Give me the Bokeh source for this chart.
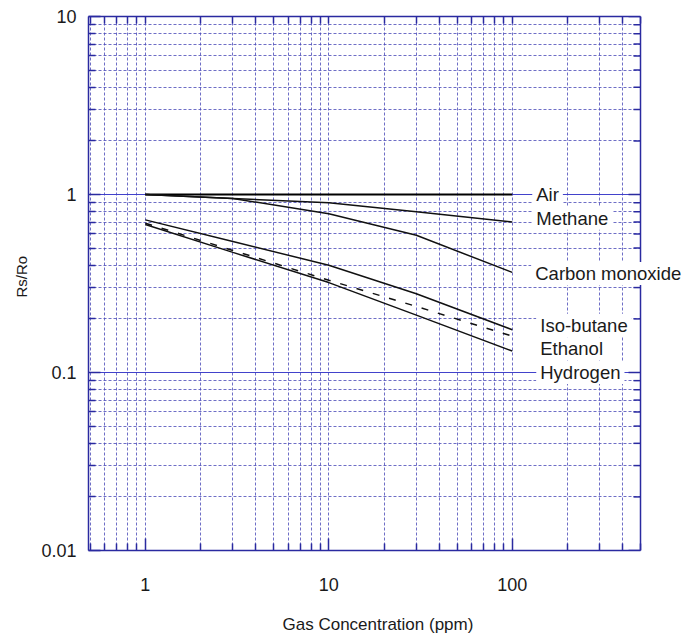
import math

from bokeh.embed import file_html
from bokeh.models import (BoxAnnotation, CustomJSTickFormatter, FixedTicker,
                          Label, LogAxis, Range1d, Span, Title)
from bokeh.plotting import figure
from bokeh.resources import INLINE

# Sensitivity characteristics: Rs/Ro versus gas concentration (ppm)
conc = [1, 3, 10, 30, 100]
air = [1.0, 1.0, 1.0, 1.0, 1.0]
methane = [1.0, 0.95, 0.90, 0.80, 0.70]
carbon_monoxide = [1.0, 0.95, 0.78, 0.59, 0.365]
iso_butane = [0.72, 0.545, 0.40, 0.277, 0.174]
ethanol = [0.69, 0.485, 0.33, 0.235, 0.16]
hydrogen = [0.678, 0.473, 0.32, 0.21, 0.132]

gas_names = ["Air", "Methane", "Carbon monoxide", "Iso-butane", "Ethanol", "Hydrogen"]

x_major = [1, 10, 100]
y_major = [0.01, 0.1, 1, 10]
x_lo, x_hi = 0.49, 500
y_lo, y_hi = 0.01, 10

FONT = "Liberation Sans"
FRAME = "#2a2aa0"
GRID = "#4a4ab8"
GRID_MAJOR = "#3838c8"
TEXT = "#1a1a1a"

x_minor = [m * 10.0 ** k for k in (-1, 0, 1, 2) for m in range(2, 10)]
x_minor = [v for v in x_minor if x_lo <= v <= x_hi]
y_minor = [m * 10.0 ** k for k in (-2, -1, 0) for m in range(2, 10)]

# the plotting frame runs on past x_hi so that the curve names on the
# right are not cut; the chart box itself ends at x_hi
FRAME_W, EXTRA_W = 552, 49
px_per_decade = FRAME_W / math.log10(x_hi / x_lo)
x_view_hi = x_hi * 10 ** (EXTRA_W / px_per_decade)

p = figure(width=689, height=642,
           x_axis_type="log", y_axis_type="log",
           x_range=Range1d(x_lo, x_view_hi), y_range=Range1d(y_lo, y_hi),
           output_backend="svg", toolbar_location=None,
           min_border_left=88, min_border_right=0,
           min_border_top=16, min_border_bottom=92)
p.outline_line_color = None
p.background_fill_color = "white"
p.border_fill_color = "white"

xt = FixedTicker(ticks=x_major, minor_ticks=x_minor)
yt = FixedTicker(ticks=y_major, minor_ticks=y_minor)
fmt = CustomJSTickFormatter(code="return tick.toString();")

p.xaxis.ticker = xt
p.yaxis.ticker = yt
p.xgrid.ticker = xt
p.ygrid.ticker = yt
p.xaxis.formatter = fmt
p.yaxis.formatter = fmt
p.xaxis.bounds = (x_lo, x_hi)


def style_axis(ax):
    ax.axis_line_color = FRAME
    ax.axis_line_width = 1.5
    ax.major_tick_in = 12
    ax.major_tick_out = 0
    ax.minor_tick_in = 7
    ax.minor_tick_out = 0
    ax.major_tick_line_color = FRAME
    ax.major_tick_line_width = 1.5
    ax.minor_tick_line_color = FRAME
    ax.minor_tick_line_width = 1.5
    ax.major_label_text_font = FONT
    ax.major_label_text_font_size = "18px"
    ax.major_label_text_color = TEXT


for ax in p.xaxis:
    style_axis(ax)
    ax.major_label_standoff = 27
for ax in p.yaxis:
    style_axis(ax)
    ax.major_label_standoff = 12

# tick-only axis closing the box on top
top_axis = LogAxis(ticker=FixedTicker(ticks=[], minor_ticks=x_major + x_minor),
                   bounds=(x_lo, x_hi))
style_axis(top_axis)
p.add_layout(top_axis, "above")

# grid: dashed verticals, solid decade horizontals, dashed minor lines
p.xgrid.grid_line_color = GRID
p.xgrid.grid_line_dash = "3 2"
p.xgrid.grid_line_alpha = 0.8
p.xgrid.minor_grid_line_color = GRID
p.xgrid.minor_grid_line_dash = "3 2"
p.xgrid.minor_grid_line_alpha = 0.8
p.ygrid.grid_line_color = GRID_MAJOR
p.ygrid.grid_line_width = 1.2
p.ygrid.grid_line_alpha = 0.95
p.ygrid.minor_grid_line_color = GRID
p.ygrid.minor_grid_line_dash = "3 2"
p.ygrid.minor_grid_line_alpha = 0.8

# blank out the grid beyond the box and draw its right edge
p.add_layout(BoxAnnotation(left=x_hi, fill_color="white", fill_alpha=1.0,
                           line_alpha=0, level="underlay"))
p.add_layout(Span(location=x_hi, dimension="height", line_color=FRAME,
                  line_width=1.5, level="underlay"))

# inward ticks along the right edge
right_y = y_major + y_minor
right_len = [12] * len(y_major) + [7] * len(y_minor)
p.segment(x0=[x_hi / 10 ** (L / px_per_decade) for L in right_len],
          x1=[x_hi] * len(right_y), y0=right_y, y1=right_y,
          line_color=FRAME, line_width=1.5)

# sensitivity curves
p.line(conc, air, line_color="black", line_width=2)
p.line(conc, methane, line_color="#111111", line_width=1.5)
p.line(conc, carbon_monoxide, line_color="#111111", line_width=1.5)
p.line(conc, iso_butane, line_color="#111111", line_width=1.5)
p.line(conc, ethanol, line_color="#111111", line_width=1.5, line_dash="7 10")
p.line(conc, hydrogen, line_color="#111111", line_width=1.5)

# curve names to the right of the 100 ppm end points
label_y = [1.0, 0.735, 0.36, 0.184, 0.136, 0.1]
label_dx = [20, 20, 19, 24, 24, 24]
for name, yy, dx in zip(gas_names, label_y, label_dx):
    p.add_layout(Label(x=conc[-1], y=yy, x_offset=dx, text=name,
                       text_align="left", text_baseline="middle",
                       text_font=FONT, text_font_size="18.5px",
                       text_color=TEXT,
                       background_fill_color="white",
                       padding=dict(left=4, right=4, top=1, bottom=1)))

# axis titles
p.add_layout(Title(text="Gas Concentration (ppm)", align="left", offset=194,
                   standoff=4, padding=dict(left=0, right=0, top=17, bottom=0),
                   text_font=FONT, text_font_size="17px",
                   text_font_style="normal", text_color=TEXT), "below")
p.add_layout(Title(text="Rs/Ro", align="left", offset=253, standoff=18,
                   text_font=FONT, text_font_size="15px",
                   text_font_style="normal", text_color=TEXT), "left")

open("out.html", "w").write(file_html(p, INLINE))
